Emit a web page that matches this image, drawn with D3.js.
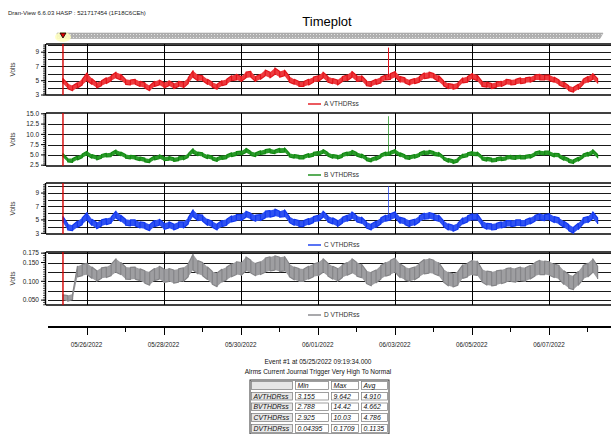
<!DOCTYPE html>
<html><head><meta charset="utf-8">
<script src="https://cdn.jsdelivr.net/npm/d3@7"></script>
<style>
body{margin:0;background:#fff}
svg{display:block;font-family:"Liberation Sans Narrow","Arial Narrow","Liberation Sans",Arial,sans-serif}
</style></head><body><svg></svg>
<script>
var w = 611, h = 434;

// ---- data (min / max of each 3 h interval) ----
var startTime = "05/25/2022 09:19:34";
var stepHours = 3;
var aLow = [4.6,3.9,3.6,4.0,4.4,5.0,4.5,4.0,4.3,4.6,
  5.0,5.4,5.1,4.5,4.4,4.5,4.2,4.0,3.6,4.2,
  4.4,4.0,4.3,3.9,4.2,4.0,4.6,5.5,5.0,5.0,
  4.5,4.1,3.8,4.3,4.5,5.0,5.1,4.9,5.4,5.5,
  4.9,5.2,5.7,5.4,5.9,5.5,5.7,4.8,4.5,4.2,
  4.2,4.4,4.8,4.9,5.4,4.8,4.6,4.4,4.9,5.0,
  5.5,4.9,5.0,4.3,4.2,4.5,4.7,5.1,5.2,5.5,
  4.8,4.7,4.4,4.6,4.8,5.3,5.4,5.3,4.9,4.3,
  3.9,3.8,4.0,4.7,4.8,5.3,5.0,4.2,4.1,3.9,
  4.1,4.2,4.5,4.4,4.5,4.6,4.7,4.8,5.1,5.1,
  5.1,5.0,4.8,4.4,4.1,3.6,3.4,3.8,4.5,4.8,
  5.2,4.6];
var aHigh = [5.3,4.6,4.3,4.7,5.2,6.1,5.3,4.7,5.0,5.4,
  5.7,6.2,5.9,5.2,5.1,5.2,4.9,4.7,4.3,4.9,
  5.1,4.7,5.0,4.6,4.9,4.8,5.4,6.4,5.8,5.7,
  5.2,4.8,4.5,5.0,5.2,5.7,5.9,5.6,6.2,6.3,
  5.6,5.9,6.5,6.2,6.8,6.3,6.5,5.6,5.2,4.9,
  4.9,5.2,5.5,5.7,6.2,5.6,5.3,5.1,5.6,5.8,
  6.3,5.7,5.7,5.0,4.9,5.2,5.5,5.8,6.0,6.3,
  5.6,5.4,5.1,5.3,5.6,6.1,6.2,6.0,5.7,5.0,
  4.6,4.5,4.7,5.4,5.6,6.0,5.8,4.9,4.8,4.6,
  4.8,4.9,5.2,5.1,5.2,5.4,5.4,5.5,5.8,5.9,
  5.8,5.8,5.5,5.1,4.8,4.3,4.1,4.5,5.2,5.6,
  6.0,5.3];
var bLow = [4.4,3.3,3.2,3.8,4.3,4.9,4.2,3.8,4.2,4.5,
  4.6,5.2,4.8,4.2,4.0,3.9,3.6,3.3,3.1,3.8,
  4.1,3.6,3.7,3.4,3.6,3.8,4.4,5.4,4.8,4.6,
  4.1,3.8,3.4,3.9,4.1,4.6,4.9,5.0,5.6,4.9,
  4.6,5.1,5.3,5.5,5.3,5.6,5.7,4.5,4.2,4.0,
  4.0,4.4,4.7,4.9,5.4,4.7,4.2,4.0,4.4,4.8,
  5.1,4.7,4.3,3.6,3.3,3.7,4.3,4.8,5.0,5.4,
  4.6,4.1,3.9,4.2,4.6,5.1,5.2,4.9,4.7,3.8,
  3.2,2.9,3.3,4.3,4.6,4.9,4.8,3.8,3.5,3.3,
  3.4,3.6,3.8,4.0,3.9,4.0,4.0,4.2,4.8,5.1,
  5.0,5.0,4.5,4.4,3.7,3.2,2.9,3.5,4.3,4.7,
  5.3,4.2];
var bHigh = [5.3,4.1,4.1,4.7,5.2,5.9,5.1,4.7,5.1,5.4,
  5.5,6.2,5.7,5.1,4.9,4.8,4.5,4.2,4.0,4.7,
  5.0,4.5,4.6,4.3,4.5,4.7,5.3,6.5,5.7,5.5,
  5.0,4.7,4.3,4.8,5.0,5.5,5.8,5.9,6.6,5.8,
  5.5,6.0,6.3,6.5,6.2,6.6,6.7,5.4,5.1,4.9,
  4.9,5.3,5.6,5.8,6.3,5.6,5.1,4.9,5.3,5.7,
  6.1,5.6,5.2,4.5,4.2,4.6,5.2,5.7,5.9,6.3,
  5.5,5.0,4.8,5.1,5.5,6.0,6.1,5.8,5.6,4.7,
  4.1,3.8,4.2,5.2,5.5,5.8,5.7,4.7,4.4,4.2,
  4.3,4.5,4.7,4.9,4.8,4.9,4.9,5.1,5.7,6.0,
  5.9,5.9,5.4,5.3,4.6,4.1,3.8,4.4,5.2,5.6,
  6.3,5.1];
var cLow = [4.6,3.5,3.4,3.9,4.3,5.0,4.2,3.7,4.1,4.3,
  4.5,5.3,4.8,4.2,4.1,4.1,3.8,3.7,3.4,4.0,
  4.2,3.6,3.8,3.5,3.8,3.8,4.4,5.5,4.9,4.8,
  4.2,3.9,3.5,4.0,4.2,4.7,4.9,4.9,5.4,5.1,
  4.8,4.9,5.3,5.4,5.6,5.4,5.5,4.6,4.2,4.0,
  4.0,4.3,4.6,4.8,5.4,4.7,4.4,4.0,4.5,4.8,
  5.2,4.7,4.5,3.8,3.5,3.9,4.4,4.8,5.0,5.3,
  4.5,4.3,4.0,4.2,4.7,5.1,5.2,5.0,4.8,4.0,
  3.5,3.3,3.6,4.4,4.7,5.0,5.0,4.0,3.6,3.5,
  3.6,3.8,4.0,4.0,4.1,4.1,4.1,4.4,4.8,5.0,
  4.9,5.0,4.6,4.4,3.9,3.4,3.0,3.6,4.4,4.6,
  5.2,4.4];
var cHigh = [5.5,4.4,4.2,4.8,5.3,6.1,5.1,4.6,5.0,5.2,
  5.4,6.3,5.7,5.1,5.0,5.0,4.7,4.6,4.3,4.9,
  5.1,4.5,4.7,4.4,4.7,4.7,5.3,6.5,5.8,5.7,
  5.1,4.8,4.4,4.9,5.1,5.6,5.8,5.8,6.3,6.0,
  5.7,5.8,6.3,6.4,6.6,6.3,6.5,5.5,5.1,4.9,
  4.9,5.2,5.5,5.7,6.3,5.6,5.3,4.9,5.4,5.7,
  6.2,5.6,5.4,4.7,4.4,4.8,5.3,5.7,5.9,6.2,
  5.4,5.2,4.9,5.1,5.6,6.0,6.1,5.9,5.7,4.9,
  4.4,4.2,4.5,5.3,5.6,5.9,5.9,4.9,4.5,4.4,
  4.5,4.7,4.9,4.9,5.0,5.0,5.0,5.3,5.7,5.9,
  5.8,5.9,5.5,5.3,4.8,4.3,3.9,4.5,5.3,5.5,
  6.2,5.3];
var dLow = [0.050,0.047,0.052,0.112,0.115,0.118,0.108,0.100,0.108,0.110,
  0.115,0.124,0.118,0.106,0.105,0.106,0.102,0.095,0.090,0.102,
  0.106,0.097,0.100,0.095,0.098,0.100,0.112,0.130,0.120,0.115,
  0.105,0.092,0.086,0.098,0.104,0.112,0.118,0.116,0.128,0.122,
  0.115,0.118,0.124,0.128,0.130,0.126,0.128,0.112,0.104,0.100,
  0.100,0.106,0.112,0.115,0.124,0.114,0.106,0.100,0.110,0.116,
  0.122,0.114,0.110,0.094,0.088,0.096,0.106,0.114,0.118,0.124,
  0.110,0.104,0.100,0.104,0.112,0.120,0.122,0.120,0.115,0.098,
  0.088,0.085,0.090,0.108,0.112,0.118,0.116,0.098,0.090,0.088,
  0.090,0.094,0.098,0.100,0.098,0.102,0.100,0.106,0.114,0.118,
  0.118,0.116,0.110,0.106,0.092,0.082,0.078,0.090,0.106,0.112,
  0.124,0.106];
var dHigh = [0.064,0.062,0.066,0.140,0.145,0.148,0.138,0.128,0.136,0.138,
  0.145,0.160,0.150,0.138,0.137,0.138,0.133,0.128,0.125,0.134,
  0.140,0.132,0.134,0.130,0.133,0.136,0.146,0.172,0.155,0.150,
  0.138,0.126,0.122,0.132,0.138,0.146,0.152,0.150,0.165,0.156,
  0.148,0.152,0.162,0.165,0.168,0.164,0.166,0.146,0.138,0.134,
  0.133,0.140,0.146,0.150,0.160,0.148,0.140,0.134,0.144,0.150,
  0.160,0.150,0.145,0.128,0.124,0.130,0.142,0.150,0.156,0.162,
  0.146,0.138,0.134,0.138,0.148,0.158,0.160,0.156,0.150,0.132,
  0.124,0.120,0.126,0.144,0.148,0.156,0.154,0.132,0.127,0.125,
  0.128,0.130,0.134,0.136,0.134,0.138,0.136,0.142,0.150,0.156,
  0.154,0.152,0.146,0.142,0.128,0.118,0.114,0.126,0.142,0.148,
  0.160,0.140];
// the single spike seen on A, B, C
var spikeTime = "06/02/2022 19:40:00";
var spikeBase = [5.5, 5.3, 5.3];
var spikePeak = [9.642, 14.42, 10.03];

var xTickLabels = ["05/26/2022","05/28/2022","05/30/2022","06/01/2022","06/03/2022","06/05/2022","06/07/2022"];

var tableRows = ["AVTHDRss","BVTHDRss","CVTHDRss","DVTHDRss"];
var tableCols = ["Min","Max","Avg"];
var minVals = ["3.155","2.788","2.925","0.04395"];
var maxVals = ["9.642","14.42","10.03","0.1709"];
var avgVals = ["4.910","4.662","4.786","0.1135"];

// ---- drawing ----
var parse = d3.timeParse("%m/%d/%Y %H:%M:%S");
var parseDay = d3.timeParse("%m/%d/%Y");
var t0 = parse(startTime);
var tSpike = parse(spikeTime);

var svg = d3.select("svg").attr("width", w).attr("height", h);

var x = d3.scaleTime()
    .domain([parse("05/25/2022 00:00:00"), parse("06/08/2022 14:40:00")])
    .range([48, 611]);

svg.append("text").attr("x", 8).attr("y", 15)
    .attr("font-size", 6).attr("fill", "#222")
    .text("Dran-View 6.6.03 HASP : 521717454 (1F18C6CEh)");
svg.append("text").attr("x", 327).attr("y", 26)
    .attr("text-anchor", "middle").attr("font-size", 13)
    .attr("font-family", "Liberation Sans, Arial, sans-serif")
    .text("Timeplot");

// scroll bar with event marker
var defs = svg.append("defs");
var pat = defs.append("pattern").attr("id", "stip")
    .attr("width", 3).attr("height", 3).attr("patternUnits", "userSpaceOnUse");
pat.append("rect").attr("width", 3).attr("height", 3).attr("fill", "#b0b0b0");
pat.append("rect").attr("x", 1).attr("y", 1).attr("width", 1).attr("height", 1).attr("fill", "#e4e4e4");
svg.append("path")
    .attr("d", "M57,33 L603,33 L600,38.5 L57,38.5 Z")
    .attr("fill", "url(#stip)").attr("stroke", "#999").attr("stroke-width", 0.5);
svg.append("ellipse").attr("cx", x(t0)).attr("cy", 37).attr("rx", 8).attr("ry", 5)
    .attr("fill", "#ffffc0").attr("opacity", 0.9);
svg.append("path")
    .attr("d", "M" + (x(t0) - 3) + ",33 L" + (x(t0) + 3) + ",33 L" + x(t0) + ",38 Z")
    .attr("fill", "#e00000").attr("stroke", "#000").attr("stroke-width", 0.8);

function bandRows(lo, hi) {
    return lo.map(function (v, i) { return { t: d3.timeHour.offset(t0, i * stepHours), lo: v, hi: hi[i] }; });
}
// zigzag through min/max of each interval, as the instrument draws dense data
function zigzag(rows) {
    var pts = [];
    rows.forEach(function (r, i) {
        if (i % 2 == 0) { pts.push({ t: r.t, v: r.lo }, { t: r.t, v: r.hi }); }
        else { pts.push({ t: r.t, v: r.hi }, { t: r.t, v: r.lo }); }
    });
    return pts;
}

var panels = [
    { name: "A VTHDRss", color: "#e3141b", fill: "#ee3a3e", rows: bandRows(aLow, aHigh), top: 44, bottom: 95,
      domain: [3, 10.15], grid: d3.range(4, 10.5, 1), labels: [3, 5, 7, 9], minor: 0.25, fmt: d3.format("d"), legendY: 104 },
    { name: "B VTHDRss", color: "#128a12", fill: "#2a9a2a", rows: bandRows(bLow, bHigh), top: 113, bottom: 166,
      domain: [2.3, 15.2], grid: [5, 7.5, 10, 12.5], labels: [2.5, 5, 7.5, 10, 12.5, 15], minor: 0.5, fmt: d3.format(".1f"), legendY: 175 },
    { name: "C VTHDRss", color: "#1238f0", fill: "#2f52f2", rows: bandRows(cLow, cHigh), top: 183, bottom: 234,
      domain: [2.9, 10.5], grid: d3.range(4, 10.5, 1), labels: [3, 5, 7, 9], minor: 0.25, fmt: d3.format("d"), legendY: 245 },
    { name: "D VTHDRss", color: "#858588", fill: "#9e9ea1", rows: bandRows(dLow, dHigh), top: 252, bottom: 305,
      domain: [0.037, 0.178], grid: [0.05, 0.075, 0.1, 0.125, 0.15, 0.175], labels: [0.05, 0.1, 0.15, 0.175], minor: 0.00625, fmt: d3.format(".3f"), legendY: 315 }
];

var majorDays = xTickLabels.map(function (s) { return parseDay(s); });

panels.forEach(function (p, k) {
    var y = d3.scaleLinear().domain(p.domain).range([p.bottom, p.top]);
    var g = svg.append("g");

    defs.append("clipPath").attr("id", "clip" + k).append("rect")
        .attr("x", 48).attr("y", p.top).attr("width", 611 - 48).attr("height", p.bottom - p.top);

    // horizontal grid
    g.selectAll(".hg").data(p.grid).enter().append("line")
        .attr("x1", 48).attr("x2", 611)
        .attr("y1", function (d) { return Math.round(y(d)) + 0.5; })
        .attr("y2", function (d) { return Math.round(y(d)) + 0.5; })
        .attr("stroke", "#1a1a1a").attr("stroke-width", 1);
    // vertical grid every 2 days
    g.selectAll(".vg").data(majorDays).enter().append("line")
        .attr("x1", function (d) { return Math.round(x(d)) + 0.5; })
        .attr("x2", function (d) { return Math.round(x(d)) + 0.5; })
        .attr("y1", p.top).attr("y2", p.bottom)
        .attr("stroke", "#000").attr("stroke-width", 1);
    // frame top/bottom
    [p.top, p.bottom].forEach(function (yy) {
        g.append("line").attr("x1", 46).attr("x2", 611).attr("y1", yy).attr("y2", yy)
            .attr("stroke", "#000").attr("stroke-width", 1.6);
    });

    // y axis
    g.append("line").attr("x1", 45.5).attr("x2", 45.5).attr("y1", p.top).attr("y2", p.bottom)
        .attr("stroke", "#000").attr("stroke-width", 1.4);
    var minorTicks = d3.range(Math.ceil(p.domain[0] / p.minor) * p.minor, p.domain[1], p.minor);
    g.selectAll(".mt").data(minorTicks).enter().append("line")
        .attr("x1", 43).attr("x2", 46)
        .attr("y1", function (d) { return y(d); }).attr("y2", function (d) { return y(d); })
        .attr("stroke", "#000").attr("stroke-width", 0.7);
    g.selectAll(".Mt").data(p.labels).enter().append("line")
        .attr("x1", 41).attr("x2", 46)
        .attr("y1", function (d) { return y(d); }).attr("y2", function (d) { return y(d); })
        .attr("stroke", "#000").attr("stroke-width", 1);
    g.selectAll(".tl").data(p.labels).enter().append("text")
        .attr("x", 39).attr("y", function (d) { return y(d) + 2.2; })
        .attr("text-anchor", "end").attr("font-size", 6.5).attr("fill", "#222")
        .text(function (d) { return p.fmt(d); });
    g.append("text")
        .attr("transform", "translate(15," + ((p.top + p.bottom) / 2) + ") rotate(-90)")
        .attr("text-anchor", "middle").attr("font-size", 6.5).attr("fill", "#333")
        .text("Volts");

    // series: min/max band plus zigzag trace
    var sg = g.append("g").attr("clip-path", "url(#clip" + k + ")");
    var area = d3.area().x(function (d) { return x(d.t); })
        .y0(function (d) { return y(d.lo); }).y1(function (d) { return y(d.hi); });
    sg.append("path").datum(p.rows).attr("d", area)
        .attr("fill", p.fill).attr("stroke", "none");
    var line = d3.line().x(function (d) { return x(d.t); }).y(function (d) { return y(d.v); });
    sg.append("path").datum(zigzag(p.rows)).attr("d", line)
        .attr("fill", "none").attr("stroke", p.color)
        .attr("stroke-width", 1.2).attr("stroke-linejoin", "round");
    if (k < spikeBase.length) {
        var sx = Math.round(x(tSpike)) + 0.5;
        sg.append("line")
            .attr("x1", sx).attr("x2", sx)
            .attr("y1", y(spikeBase[k])).attr("y2", y(spikePeak[k]))
            .attr("stroke", p.color).attr("stroke-width", 1).attr("opacity", k == 0 ? 1 : 0.7);
    }

    // event cursor
    g.append("line").attr("x1", x(t0)).attr("x2", x(t0)).attr("y1", p.top).attr("y2", p.bottom)
        .attr("stroke", "#d40000").attr("stroke-width", 1.4);

    // legend
    g.append("line").attr("x1", 308).attr("x2", 321).attr("y1", p.legendY).attr("y2", p.legendY)
        .attr("stroke", p.color).attr("stroke-width", 1.4);
    g.append("text").attr("x", 324).attr("y", p.legendY + 2.2)
        .attr("font-size", 6.5).attr("fill", "#333").text(p.name);
});

// bottom time axis
var axisY = 327;
svg.append("line").attr("x1", 48).attr("x2", 611).attr("y1", axisY).attr("y2", axisY)
    .attr("stroke", "#000").attr("stroke-width", 2.2);
var allDays = d3.timeDay.range(parseDay("05/26/2022"), x.domain()[1]);
svg.selectAll(".dt").data(allDays).enter().append("line")
    .attr("x1", function (d) { return Math.round(x(d)) + 0.5; })
    .attr("x2", function (d) { return Math.round(x(d)) + 0.5; })
    .attr("y1", axisY)
    .attr("y2", function (d, i) { return axisY + (i % 2 == 0 ? 8 : 5); })
    .attr("stroke", "#000").attr("stroke-width", 1);
svg.selectAll(".dl").data(xTickLabels).enter().append("text")
    .attr("x", function (d) { return x(parseDay(d)); })
    .attr("y", 347).attr("text-anchor", "middle").attr("font-size", 6.3).attr("fill", "#222")
    .text(function (d) { return d; });

// event text
svg.append("text").attr("x", 318).attr("y", 364).attr("text-anchor", "middle")
    .attr("font-size", 6.5).attr("fill", "#111").text("Event #1 at 05/25/2022 09:19:34.000");
svg.append("text").attr("x", 318).attr("y", 374).attr("text-anchor", "middle")
    .attr("font-size", 6.5).attr("fill", "#111").text("Alrms Current Journal Trigger Very High To Normal");

// stats table
var colX = [250, 294, 330, 360, 389];
var rowY = [380, 391, 401.5, 412, 423, 434];
var tbl = svg.append("g");
tbl.append("rect").attr("x", colX[0]).attr("y", rowY[0])
    .attr("width", colX[4] - colX[0]).attr("height", rowY[5] - rowY[0])
    .attr("fill", "#fff").attr("stroke", "#333").attr("stroke-width", 1);
var cells = [];
["", tableCols[0], tableCols[1], tableCols[2]].forEach(function (c, j) { cells.push({ r: 0, c: j, text: c, head: true }); });
tableRows.forEach(function (name, i) {
    cells.push({ r: i + 1, c: 0, text: name, head: true });
    cells.push({ r: i + 1, c: 1, text: minVals[i] });
    cells.push({ r: i + 1, c: 2, text: maxVals[i] });
    cells.push({ r: i + 1, c: 3, text: avgVals[i] });
});
var cg = tbl.selectAll(".cell").data(cells).enter().append("g");
cg.append("rect")
    .attr("x", function (d) { return colX[d.c] + 1.5; })
    .attr("y", function (d) { return rowY[d.r] + 1.5; })
    .attr("width", function (d) { return colX[d.c + 1] - colX[d.c] - 3; })
    .attr("height", function (d) { return rowY[d.r + 1] - rowY[d.r] - 3; })
    .attr("fill", function (d) { return d.head && (d.c == 0) ? "#e6e6e6" : "#fff"; })
    .attr("stroke", "#777").attr("stroke-width", 0.7);
cg.append("text")
    .attr("x", function (d) { return colX[d.c] + 3.5; })
    .attr("y", function (d) { return rowY[d.r + 1] - 3; })
    .attr("font-size", 6.9).attr("font-style", "italic").attr("fill", "#111")
    .text(function (d) { return d.text; });
</script>
</body></html>
